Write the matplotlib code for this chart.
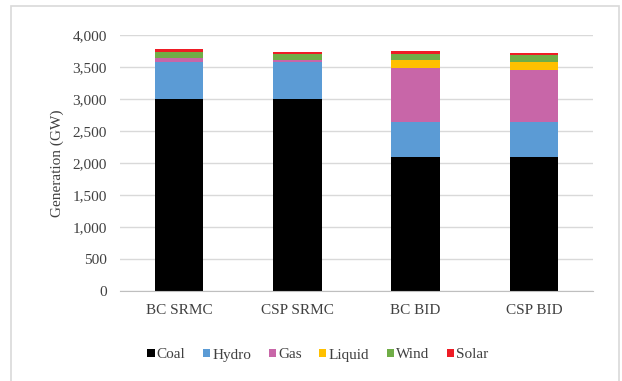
import matplotlib
matplotlib.use("Agg")
import matplotlib.pyplot as plt
from matplotlib.patches import Rectangle
import numpy as np

categories = ["BC SRMC", "CSP SRMC", "BC BID", "CSP BID"]
series_names = ["Coal", "Hydro", "Gas", "Liquid", "Wind", "Solar"]
coal = [3000, 3000, 2100, 2100]
hydro = [580, 580, 540, 540]
gas = [60, 30, 845, 815]
liquid = [0, 0, 125, 125]
wind = [100, 95, 100, 100]
solar = [35, 35, 38, 40]
colors = ["#000000", "#5B9BD5", "#C866A8", "#FFC000", "#70AD47", "#EE1C25"]

plt.rcParams['font.family'] = ['Liberation Serif', 'DejaVu Serif']

fig = plt.figure(figsize=(6.22, 3.81), dpi=100)
fig.patches.append(Rectangle((11/622, -0.05), (619-11)/622, 1.05 - 6/381,
                             transform=fig.transFigure, fill=False,
                             edgecolor="#d9d9d9", linewidth=1.2, zorder=0))
ax = fig.add_axes([120/622, (381-291)/381, (593-120)/622, (291-35)/381])

x = np.arange(len(categories))
bottom = np.zeros(len(categories))
data = [coal, hydro, gas, liquid, wind, solar]
for name, vals, c in zip(series_names, data, colors):
    ax.bar(x, vals, width=0.41, bottom=bottom, color=c, label=name, zorder=3)
    bottom += np.array(vals)

txt = "#404040"
ax.set_xlim(-0.5, len(categories) - 0.5)
ax.set_ylim(0, 4000)
ax.set_yticks(np.arange(0, 4001, 500))
ax.set_yticklabels([f"{v:,}" for v in range(0, 4001, 500)])
ax.set_xticks(x)
ax.set_xticklabels(categories)
ax.grid(axis='y', color="#d9d9d9", linewidth=1.0, zorder=0)
for s in ["top", "right", "left"]:
    ax.spines[s].set_visible(False)
ax.spines["bottom"].set_color("#bfbfbf")
ax.spines["bottom"].set_zorder(4)
ax.tick_params(axis='both', length=0, labelsize=11, colors=txt)
ax.tick_params(axis='y', pad=9.5)
ax.tick_params(axis='x', pad=9)
ax.set_ylabel("Generation (GW)", fontsize=11, color=txt, labelpad=6)

handles, labels = ax.get_legend_handles_labels()
fig.legend(handles, labels, loc='center', bbox_to_anchor=(318/622, 1 - 355/381),
           ncol=6, frameon=False, fontsize=11, handlelength=0.46, handleheight=0.46,
           handletextpad=0.15, columnspacing=1.15, labelcolor=txt)

fig.savefig("out.png", dpi=100)
